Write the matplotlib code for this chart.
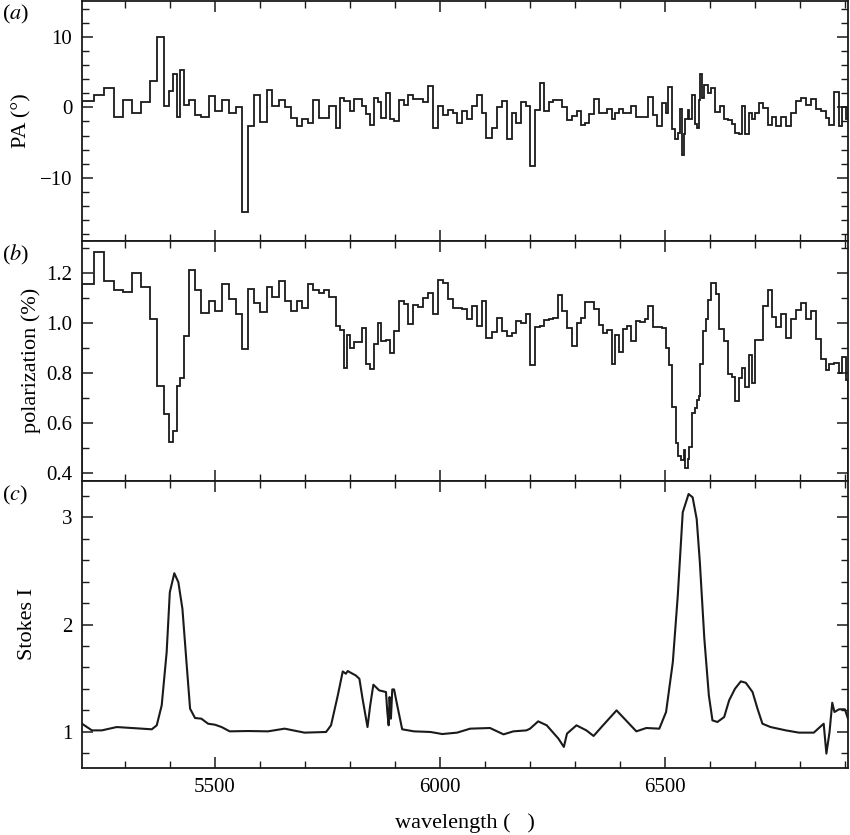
import matplotlib
matplotlib.use("Agg")
import matplotlib.pyplot as plt
from matplotlib.ticker import MultipleLocator

plt.rcParams['font.family'] = ['Liberation Serif', 'DejaVu Serif']
plt.rcParams['mathtext.fontset'] = 'stix'

# ---- panel (a): position angle, binned ----
pa_edges = [5205, 5231, 5253, 5275, 5295, 5316, 5335, 5355, 5372, 5386, 5398, 5406, 5416, 5423, 5431,
            5442, 5456, 5470, 5486, 5501, 5516, 5531, 5546, 5560, 5574, 5588, 5601, 5615, 5628, 5642,
            5655, 5670, 5683, 5694, 5706, 5719, 5731, 5754, 5768, 5779,
            5786, 5801, 5810, 5826, 5835, 5845, 5854, 5863, 5870, 5880, 5889, 5898, 5909, 5920, 5930,
            5941, 5963, 5973, 5984, 5995, 6006, 6017, 6028, 6038, 6049, 6060, 6071, 6082, 6093, 6103,
            6116, 6127, 6138, 6149, 6160, 6169, 6180, 6192, 6200, 6211, 6221, 6231, 6241, 6250, 6261,
            6272, 6283, 6293, 6304, 6312, 6323, 6331,
            6342, 6352, 6370, 6381, 6388, 6398, 6407, 6425, 6435, 6462, 6472, 6482, 6492, 6501, 6507,
            6516, 6522, 6528, 6532, 6537, 6541, 6545, 6550, 6554, 6560, 6566, 6571, 6575, 6578, 6582,
            6587, 6595, 6602, 6611, 6621, 6630, 6639, 6649, 6656, 6663, 6671, 6677, 6686, 6693, 6700,
            6709, 6718, 6728, 6737, 6747, 6757, 6768, 6779, 6790, 6801, 6812, 6823, 6834, 6846, 6857,
            6864, 6875, 6885, 6893, 6901, 6906]
pa_vals = [0.9, 1.7, 2.8, -1.4, 1.0, -0.8, 0.75, 3.7, 10.0, 0.2, 2.3, 4.8, -1.4, 5.25,
           0.3, 1.1, -1.1, -1.3, 1.6, -0.5, 1.0, -0.8, 0.1, -14.9, -2.7, 1.8, -2.1, 2.5, 0.25,
           1.1, 0.1, -1.5, -2.7, -1.7, -2.2, 1.1, -1.5, 0.25, -3.0,
           1.4, 0.95, -0.55, 1.2, 0.2, -1.0, -2.5, 1.3, 0.75, -1.5, 2.1, -1.7, -2.0, 1.1, 0.4,
           1.8, 1.2, 0.75, 3.0, -2.9, 0.25, -1.15, -0.4, -0.8, -2.2, -0.5, -1.6, 0.25, 1.75, -0.8,
           -4.3, -2.9, 0.1, 0.85, -4.5, -0.8, -2.2, 0.7, 0.25, -8.3, -0.4, 3.4, -0.5, 0.8, 1.0,
           1.1, 0.05, -1.8, -1.25, -0.5, -2.5, -2.2,
           -1.0, 1.2, -0.85, -0.25, -1.6, -0.8, -0.2, -0.8, 0.15, -1.3, 1.5, -1.15, -2.7, 0.65,
           -0.85, 2.9, -3.1, -4.5, -3.6, -0.25, -6.8, -3.8, -1.7, -0.4, -1.7, 1.75, -2.3, -3.0,
           1.1, 4.7, 1.3, 3.2, 2.1, 2.75, -0.7, 0.25, -1.6, -1.8, -2.3, -3.7, -3.8, 0.25, -3.8,
           -0.85, -1.7, -0.8, 0.55, -0.05, -2.5, -1.4, -2.6, -1.4, -2.7, -0.8, 0.95, 1.3, 0.4,
           1.2, -0.25, -0.45, -1.5, -2.5, 2.25, -2.7, 0.1, -1.7]

# ---- panel (b): polarization, binned ----
pol_edges = [5205, 5231, 5253, 5275, 5295, 5316, 5335, 5355, 5372, 5386, 5398, 5406, 5416, 5423, 5431,
             5442, 5456, 5470, 5486, 5501, 5516, 5531, 5546, 5560, 5574, 5588, 5601, 5615, 5628, 5642,
             5655, 5670, 5683, 5694, 5706, 5719, 5731, 5743, 5754, 5768, 5779,
             5786, 5793, 5801, 5810, 5826, 5835, 5845, 5854, 5863, 5870, 5880, 5889, 5898, 5909, 5920,
             5930, 5941, 5952, 5963, 5973, 5984, 5995, 6006, 6017, 6028, 6038, 6049, 6060, 6071, 6082,
             6093, 6103, 6116, 6127, 6138, 6149, 6160, 6169, 6180, 6192, 6200, 6211, 6221, 6231, 6241,
             6250, 6261, 6272, 6283, 6293, 6304, 6312, 6323, 6331,
             6342, 6352, 6361, 6370, 6381, 6388, 6398, 6407, 6416, 6425, 6435, 6445, 6455, 6462, 6472,
             6482, 6492, 6501, 6509, 6516, 6523, 6529, 6535, 6541, 6545, 6550, 6554, 6560, 6566, 6571,
             6575, 6578, 6584, 6590, 6596, 6602, 6612, 6619, 6630, 6639, 6649, 6656, 6663, 6671, 6677,
             6686, 6693, 6700, 6718, 6728, 6737, 6747, 6757, 6768, 6779, 6790, 6801, 6812, 6823, 6834,
             6846, 6857, 6864, 6875, 6885, 6893, 6901, 6906]
pol_vals = [1.153, 1.281, 1.165, 1.132, 1.123, 1.2, 1.143, 1.014, 0.748, 0.634, 0.523, 0.568, 0.747, 0.78,
            0.946, 1.212, 1.13, 1.04, 1.087, 1.047, 1.156, 1.096, 1.034, 0.893, 1.135, 1.079, 1.042, 1.143,
            1.103, 1.167, 1.086, 1.047, 1.088, 1.059, 1.156, 1.13, 1.119, 1.13, 1.103, 0.986,
            0.97, 0.818, 0.95, 0.897, 0.924, 0.977, 0.837, 0.814, 0.915, 1.0, 0.926, 0.93, 0.877, 0.968,
            1.087, 1.074, 0.993, 1.07, 1.063, 1.1, 1.12, 1.033, 1.169, 1.159, 1.096, 1.057, 1.059, 1.054,
            1.014, 1.068, 0.986, 1.086, 0.938, 0.964, 1.017, 0.968, 0.946, 0.957, 1.006, 1.0, 1.034,
            0.832, 0.981, 0.988, 1.01, 1.015, 1.017, 1.11, 1.047, 0.977, 0.908, 0.997, 1.017, 1.083,
            1.083, 1.053, 0.989, 0.957, 0.97, 0.835, 0.95, 0.881, 0.974, 0.988, 0.928, 1.006, 1.003,
            1.015, 1.066, 0.983, 0.981, 0.977, 0.9, 0.833, 0.662, 0.519, 0.466, 0.45, 0.49, 0.419,
            0.455, 0.505, 0.638, 0.658, 0.691, 0.707, 0.835, 0.966, 1.014, 1.09, 1.16, 1.116, 0.973,
            0.926, 0.794, 0.784, 0.689, 0.778, 0.821, 0.745, 0.871, 0.758, 0.93, 1.067, 1.132, 1.021,
            0.981, 1.034, 0.937, 1.013, 1.05, 1.079, 1.013, 1.046, 0.934, 0.853, 0.811, 0.837, 0.84,
            0.8, 0.861, 0.771]

# ---- panel (c): Stokes I spectrum ----
wl_I = [5205, 5227, 5249, 5282, 5316, 5360, 5371, 5382, 5393, 5400, 5410, 5419, 5428, 5437, 5445,
        5456, 5470, 5485, 5500, 5515, 5533, 5574, 5618, 5655, 5699, 5747, 5758, 5773, 5784, 5791,
        5795, 5813, 5821, 5828, 5839, 5845, 5852, 5865, 5880, 5883, 5886, 5888, 5891, 5894, 5898,
        5905, 5916, 5942, 5979, 6005, 6038, 6067, 6111, 6141, 6163, 6192, 6200, 6218, 6237, 6263,
        6275, 6282, 6303, 6325, 6341, 6362, 6392, 6406, 6436, 6458, 6487, 6502, 6517, 6528, 6539,
        6552, 6561, 6570, 6577, 6587, 6597, 6605, 6616, 6631, 6642, 6655, 6668, 6679, 6694, 6705,
        6716, 6734, 6768, 6797, 6830, 6852, 6858, 6865, 6871, 6876, 6886, 6899, 6906]
stokes_I = [1.077, 1.015, 1.015, 1.046, 1.037, 1.025, 1.062, 1.248, 1.743, 2.30, 2.477, 2.393, 2.146,
            1.65, 1.217, 1.13, 1.124, 1.077, 1.068, 1.046, 1.006, 1.009, 1.006, 1.031, 0.994, 1.0,
            1.062, 1.34, 1.563, 1.542, 1.567, 1.526, 1.495, 1.31, 1.046, 1.248, 1.44, 1.387, 1.372,
            1.186, 1.062, 1.325, 1.124, 1.396, 1.396, 1.248, 1.025, 1.006, 1.0, 0.981, 0.994, 1.031,
            1.037, 0.978, 1.006, 1.015, 1.031, 1.099, 1.062, 0.938, 0.861, 0.985, 1.062, 1.015, 0.963,
            1.062, 1.201, 1.139, 1.006, 1.037, 1.031, 1.186, 1.65, 2.269, 3.043, 3.214, 3.183, 2.981,
            2.579, 1.867, 1.341, 1.108, 1.093, 1.139, 1.294, 1.402, 1.471, 1.458, 1.372, 1.217, 1.077,
            1.046, 1.015, 0.994, 0.994, 1.077, 0.799, 1.0, 1.272, 1.186, 1.211, 1.211, 1.124]

fig = plt.figure(figsize=(8.5, 8.35), dpi=100)
L, R = 82 / 850, 848 / 850
def rect(top_px, bot_px):
    return [L, 1 - bot_px / 835, R - L, (bot_px - top_px) / 835]

axa = fig.add_axes(rect(1, 240.5))
axb = fig.add_axes(rect(240.5, 481))
axc = fig.add_axes(rect(481, 768))

lc = '#1a1a1a'
axa.stairs(pa_vals, pa_edges, color=lc, lw=1.3)
axb.stairs(pol_vals, pol_edges, color=lc, lw=1.3)
axc.plot(wl_I, stokes_I, color=lc, lw=1.5)

axa.set_ylim(-18.9, 15.1)
axb.set_ylim(0.368, 1.328)
axc.set_ylim(0.665, 3.335)
axa.yaxis.set_major_locator(MultipleLocator(10)); axa.yaxis.set_minor_locator(MultipleLocator(2))
axb.yaxis.set_major_locator(MultipleLocator(0.2)); axb.yaxis.set_minor_locator(MultipleLocator(0.1))
axc.yaxis.set_major_locator(MultipleLocator(1)); axc.yaxis.set_minor_locator(MultipleLocator(0.2))

for ax in (axa, axb, axc):
    ax.set_xlim(5205, 6906)
    ax.xaxis.set_major_locator(MultipleLocator(500))
    ax.xaxis.set_minor_locator(MultipleLocator(100))
    ax.tick_params(which='both', direction='in', top=True, right=True, labelsize=15, color=lc)
    ax.tick_params(which='major', length=8, width=1.1, pad=7)
    ax.tick_params(which='minor', length=5, width=1.0)
    for s in ax.spines.values():
        s.set_linewidth(1.3); s.set_color(lc)
for ax in (axa, axb):
    ax.tick_params(labelbottom=False)

axb.yaxis.set_major_formatter(matplotlib.ticker.FormatStrFormatter('%.1f'))
axa.set_yticks([-10, 0, 10]); axa.set_yticklabels(['\u221210', '0', '10'])

axa.set_ylabel('PA (°)', fontsize=16, labelpad=6)
axb.set_ylabel('polarization (%)', fontsize=16, labelpad=4)
axc.set_ylabel('Stokes I', fontsize=16, labelpad=18)
axc.set_xlabel('wavelength (   )', fontsize=16, labelpad=12)

for ax, lab in ((axa, 'a'), (axb, 'b'), (axc, 'c')):
    ax.text(-0.105, 0.99, '(' + '$\\mathit{' + lab + '}$' + ')', transform=ax.transAxes,
            fontsize=16, va='top', ha='left')

fig.savefig('out.png', dpi=100)
